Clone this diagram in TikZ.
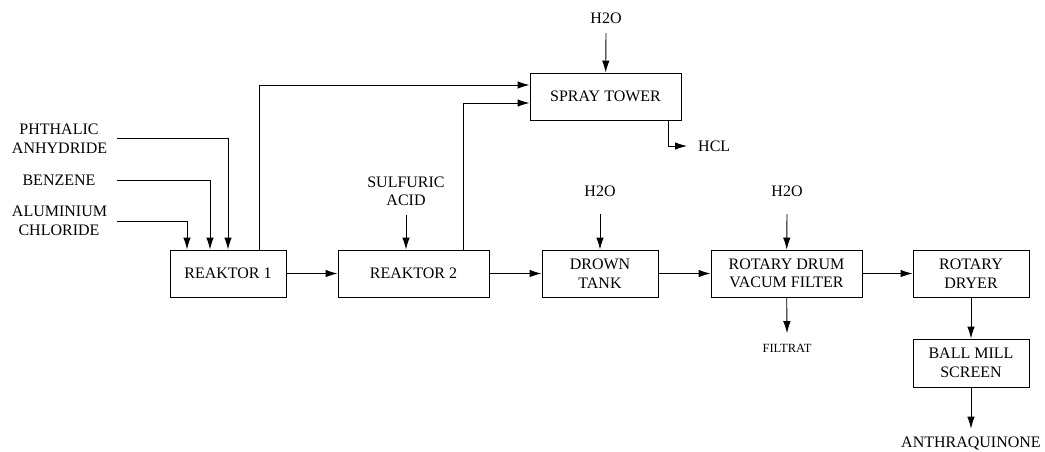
\documentclass[tikz,border=0pt]{standalone}
\usepackage{fontspec}
\setmainfont{Liberation Serif}
\usetikzlibrary{arrows.meta}

\begin{document}
\begin{tikzpicture}[x=1pt,y=-1pt,
  box/.style={draw,line width=0.9pt,minimum height=47pt,inner sep=0pt,align=center,
    font=\fontsize{16}{18.5}\selectfont},
  lbl/.style={inner sep=0pt,align=center,font=\fontsize{16}{18.5}\selectfont},
  flow/.style={line width=0.9pt,-{Latex[length=12pt,width=7.5pt]}}]
  \useasboundingbox (0,0) rectangle (1045,451);
  % process units
  \node[box,minimum width=116pt] (r1) at (228,273.5) {REAKTOR 1};
  \node[box,minimum width=151pt] (r2) at (413.5,273.5) {REAKTOR 2};
  \node[box,minimum width=116pt] (drown) at (600,273.5) {DROWN\\TANK};
  \node[box,minimum width=151pt] (drum) at (786.5,273.5) {ROTARY DRUM\\VACUM FILTER};
  \node[box,minimum width=116pt] (dryer) at (971,273.5) {ROTARY\\DRYER};
  \node[box,minimum width=116pt,minimum height=48pt] (mill) at (971,363) {BALL MILL\\SCREEN};
  \node[box,minimum width=151pt] (spray) at (605.5,96.5) {SPRAY TOWER};
  % feeds and products
  \node[lbl,text width=94pt] (pa) at (59,138.5) {PHTHALIC\\ANHYDRIDE};
  \node[lbl,text width=94pt] (bz) at (59,180) {BENZENE};
  \node[lbl,text width=94pt] (ac) at (59,221) {ALUMINIUM\\CHLORIDE};
  \node[lbl] (sa) at (406,191.5) {SULFURIC\\ACID};
  \node[lbl] (w1) at (606,18) {H2O};
  \node[lbl] (w2) at (600,191) {H2O};
  \node[lbl] (w3) at (787,191) {H2O};
  \node[lbl,anchor=west] (hcl) at (698,146) {HCL};
  \node[lbl,font=\fontsize{12.5}{15}\selectfont] (filt) at (787,348) {FILTRAT};
  \node[lbl] (aq) at (971,443) {ANTHRAQUINONE};
  % streams
  \draw[flow] ([xshift=11pt]pa.east) -| (r1.north);
  \draw[flow] ([xshift=11pt]bz.east) -| ([xshift=-18pt]r1.north);
  \draw[flow] ([xshift=11pt]ac.east) -| ([xshift=-41pt]r1.north);
  \draw[flow] ([xshift=31pt]r1.north) |- ([yshift=11.5pt]spray.west);
  \draw[flow] ([xshift=49.5pt]r2.north) |- ([yshift=-6.5pt]spray.west);
  \draw[flow] ([yshift=-9.5pt]w1.south) -- (spray);
  \draw[flow] ([xshift=62.5pt]spray.south) |- ([xshift=-11pt]hcl.west);
  \draw[flow] ([yshift=-8.5pt]sa.south) -- (sa.south |- r2.north);
  \draw[flow] ([yshift=-17.5pt]w2.south) -- (drown);
  \draw[flow] ([yshift=-17.5pt]w3.south) -- (drum);
  \draw[flow] (r1) -- (r2);
  \draw[flow] (r2) -- (drown);
  \draw[flow] (drown) -- (drum);
  \draw[flow] (drum) -- (dryer);
  \draw[flow] (drum) -- ([yshift=10.5pt]filt.north);
  \draw[flow] (dryer) -- (mill);
  \draw[flow] (mill) -- ([yshift=7.5pt]aq.north);
\end{tikzpicture}
\end{document}
